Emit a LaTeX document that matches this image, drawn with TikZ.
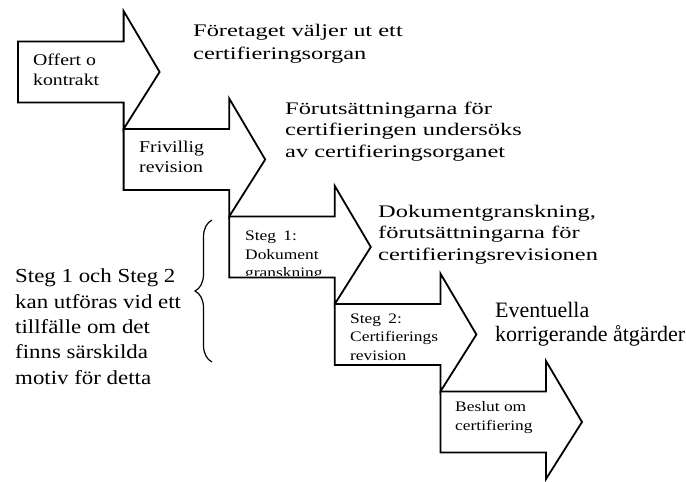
\documentclass[tikz,border=0pt]{standalone}
\usepackage{fontspec}
\setmainfont{Liberation Serif}
\newfontfamily\kommfont{Liberation Serif}[FakeStretch=1.15]
\newfontfamily\pilfont{Liberation Serif}[FakeStretch=1.2]
\newfontfamily\beskrfont{Liberation Serif}[FakeStretch=1.38]
\usepackage{tikz}
\usetikzlibrary{positioning, decorations.pathreplacing}

\begin{document}
\begin{tikzpicture}[
  x=1pt, y=-1pt,
  pil/.style={draw, line width=1.8pt, miter limit=20},
  txt/.style={anchor=base west, inner sep=0pt, align=left},
  ptxt/.style={txt, font=\pilfont\fontsize{16.5}{20}\selectfont},
  smtxt/.style={txt, font=\pilfont\fontsize{14.5}{18.3}\selectfont},
  beskr/.style={txt, font=\beskrfont\fontsize{17.7}{21.3}\selectfont},
  stor/.style={txt, font=\fontsize{22}{24}\selectfont},
  kommtxt/.style={txt, font=\kommfont\fontsize{19.9}{25.3}\selectfont},
  klammer/.style={draw, line width=1.2pt, decorate,
    decoration={brace, amplitude=17pt}},
]
  \useasboundingbox (0,0) rectangle (686,482);

  % the five steps
  \foreach \i in {0,...,4}
    \draw[pil, shift={(18+105.6*\i, 41.5+87.5*\i)}]
      (0,0) -- (105.6,0) -- (105.6,-30.5) -- (141.6,30.5)
      -- (105.6,87.5) -- (105.6,61) -- (0,61) -- cycle;

  % base anchor = last line
  \node[ptxt] (offert) at (33,85) {Offert o\\kontrakt};
  \node[ptxt] (frivillig) at (139,172) {Frivillig\\revision};
  \begin{scope}
    \clip (229.2,216.5) rectangle (334.8,275);
    \node[smtxt] (steg1) at (245,277.5) {Steg\enspace 1:\\Dokument\\granskning};
  \end{scope}
  \node[smtxt] (steg2) at (350,360) {Steg\enspace 2:\\Certifierings\\revision};
  \node[smtxt] (beslut) at (455,430) {Beslut om\\certifiering};

  % descriptions
  \node[beskr] (foretag) at (193,59.5)
    {Företaget väljer ut ett\\[1.5pt]certifieringsorgan};
  \node[beskr] (forutsatt) at (285,157)
    {Förutsättningarna för\\certifieringen undersöks\\av certifieringsorganet};
  \node[beskr] (dokgransk) at (378,260)
    {Dokumentgranskning,\\förutsättningarna för\\certifieringsrevisionen};
  \node[stor] (korrig) at (495,341.7) {Eventuella\\korrigerande åtgärder};

  % Steg 1 + Steg 2
  \node[kommtxt] (komm) at (15,384)
    {Steg 1 och Steg 2\\kan utföras vid ett\\tillfälle om det\\finns särskilda\\motiv för detta};
  \coordinate (klamtopp) at (212,220);
  \coordinate (klambott) at (212,362);
  \draw[klammer] (klambott) -- (klamtopp);
\end{tikzpicture}
\end{document}
